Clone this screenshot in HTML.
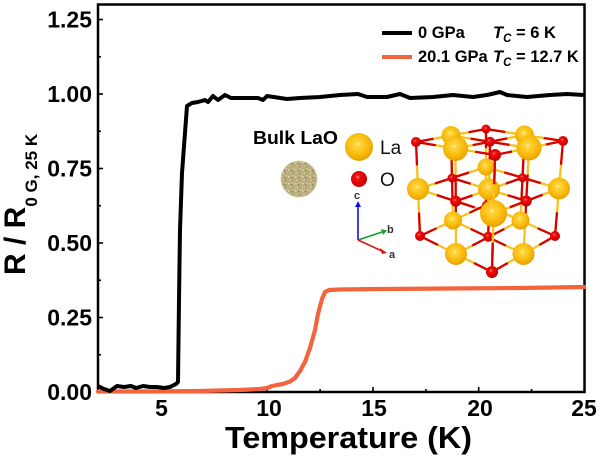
<!DOCTYPE html>
<html>
<head>
<meta charset="utf-8">
<style>
html,body{margin:0;padding:0;background:#fff;}
svg{display:block;}
text{font-family:"Liberation Sans",Arial,sans-serif;}
</style>
</head>
<body>
<svg width="600" height="462" viewBox="0 0 600 462" xmlns="http://www.w3.org/2000/svg">
<defs>
  <radialGradient id="la" cx="0.45" cy="0.4" r="0.65">
    <stop offset="0" stop-color="#FFF6C8"/>
    <stop offset="0.12" stop-color="#FFD640"/>
    <stop offset="0.6" stop-color="#F8BA0A"/>
    <stop offset="1" stop-color="#E29C00"/>
  </radialGradient>
  <radialGradient id="ox" cx="0.42" cy="0.38" r="0.65">
    <stop offset="0" stop-color="#FF9A9A"/>
    <stop offset="0.2" stop-color="#F21010"/>
    <stop offset="0.75" stop-color="#D40000"/>
    <stop offset="1" stop-color="#A80000"/>
  </radialGradient>
  <pattern id="spk" width="7" height="7" patternUnits="userSpaceOnUse">
    <rect width="7" height="7" fill="#B9AD80"/>
    <rect x="1" y="1" width="1.5" height="1.5" fill="#E8DCA6"/>
    <rect x="4" y="2" width="1.2" height="1.2" fill="#7D7350"/>
    <rect x="2.5" y="4.5" width="1.5" height="1.2" fill="#DCD096"/>
    <rect x="5.3" y="5" width="1" height="1.3" fill="#928660"/>
    <rect x="0.2" y="5.5" width="1" height="1" fill="#CFC38C"/>
    <rect x="5.5" y="0.3" width="1.2" height="1" fill="#F0E6B8"/>
  </pattern>
  <g id="E">
    <path pathLength="4" d="M486 129 L563 141"/>
    <path pathLength="4" d="M416 142 L495 155"/>
    <path pathLength="4" d="M486 129 L416 142"/>
    <path pathLength="4" d="M563 141 L495 155"/>
    <path pathLength="4" d="M452 178 L526.25 201"/>
    <path pathLength="4" d="M522.5 177.75 L455.75 201.25"/>
    <path pathLength="4" d="M486 205 L555 236"/>
    <path pathLength="4" d="M420 236 L492 272"/>
    <path pathLength="4" d="M486 205 L420 236"/>
    <path pathLength="4" d="M555 236 L492 272"/>
    <path pathLength="4" d="M486 205 L486 129"/>
    <path pathLength="4" d="M555 236 L563 141"/>
    <path pathLength="4" d="M488.25 236.75 L490 141.75"/>
    <path pathLength="4" d="M420 236 L416 142"/>
    <path pathLength="4" d="M492 272 L495 155"/>
  </g>
  <g id="O">
    <path pathLength="4" d="M451 135.5 L529 148"/>
    <path pathLength="4" d="M524.5 135 L455.5 148.5"/>
    <path pathLength="4" d="M486 167 L559 188.5"/>
    <path pathLength="4" d="M418 189 L493.5 213.5"/>
    <path pathLength="4" d="M486 167 L418 189"/>
    <path pathLength="4" d="M559 188.5 L493.5 213.5"/>
    <path pathLength="4" d="M453 220.5 L523.5 254"/>
    <path pathLength="4" d="M520.5 220.5 L456 254"/>
    <path pathLength="4" d="M520.5 220.5 L524.5 135"/>
    <path pathLength="4" d="M453 220.5 L451 135.5"/>
    <path pathLength="4" d="M523.5 254 L529 148"/>
    <path pathLength="4" d="M456 254 L455.5 148.5"/>
  </g>
  <path id="V22" pathLength="4" d="M492 272 L495 155"/>
</defs>

<!-- frame -->
<rect x="98" y="4.5" width="486.5" height="387.5" fill="none" stroke="#000" stroke-width="2.5"/>

<!-- ticks -->
<g stroke="#000" stroke-width="1.6">
  <line x1="161.5" y1="392" x2="161.5" y2="387"/>
  <line x1="267.2" y1="392" x2="267.2" y2="387"/>
  <line x1="373" y1="392" x2="373" y2="387"/>
  <line x1="478.7" y1="392" x2="478.7" y2="387"/>
  <line x1="214.3" y1="392" x2="214.3" y2="389"/>
  <line x1="320.1" y1="392" x2="320.1" y2="389"/>
  <line x1="425.9" y1="392" x2="425.9" y2="389"/>
  <line x1="531.6" y1="392" x2="531.6" y2="389"/>
  <line x1="108.6" y1="392" x2="108.6" y2="389"/>
  <line x1="98" y1="317.5" x2="103" y2="317.5"/>
  <line x1="98" y1="243" x2="103" y2="243"/>
  <line x1="98" y1="168.5" x2="103" y2="168.5"/>
  <line x1="98" y1="94" x2="103" y2="94"/>
  <line x1="98" y1="19.5" x2="103" y2="19.5"/>
  <line x1="98" y1="354.75" x2="101" y2="354.75"/>
  <line x1="98" y1="280.25" x2="101" y2="280.25"/>
  <line x1="98" y1="205.75" x2="101" y2="205.75"/>
  <line x1="98" y1="131.25" x2="101" y2="131.25"/>
  <line x1="98" y1="56.75" x2="101" y2="56.75"/>
</g>

<!-- tick labels -->
<g font-size="23" font-weight="bold" fill="#000" text-anchor="end">
  <text x="92" y="400">0.00</text>
  <text x="92" y="325.5">0.25</text>
  <text x="92" y="251">0.50</text>
  <text x="92" y="176.5">0.75</text>
  <text x="92" y="102">1.00</text>
  <text x="92" y="27.5">1.25</text>
</g>
<g font-size="23" font-weight="bold" fill="#000" text-anchor="middle">
  <text x="161.5" y="416">5</text>
  <text x="269" y="416">10</text>
  <text x="374" y="416">15</text>
  <text x="480" y="416">20</text>
  <text x="584" y="416">25</text>
</g>

<!-- axis titles -->
<text x="225" y="448" font-size="31" font-weight="bold" textLength="247" lengthAdjust="spacingAndGlyphs">Temperature (K)</text>
<text transform="translate(25,275) rotate(-90)" font-size="30" font-weight="bold">R / R<tspan font-size="17" dy="12">0 G, 25 K</tspan></text>

<!-- orange curve -->
<polyline fill="none" stroke="#F4643C" stroke-width="4.2" stroke-linejoin="round" stroke-linecap="round"
 points="98,391.5 150,391.5 200,391 240,390 260,389 267,388 272,386 277,385 283,384 290,381.5 295,378 300,371 305,362 310,348 315,330 318,314 322,299 325,292 329,290 340,289.5 380,289 450,288.5 520,288 584,287"/>

<!-- black curve -->
<polyline fill="none" stroke="#000" stroke-width="4" stroke-linejoin="round"
 points="98,386 104,389 110,391 117,386 124,387 131,386 136,388 143,386 150,387 157,387 164,388 170,387 176,384 178,382 179,300 180,230 182,173 187,106 192,103 198,102 205,100 208,102 213,96 218,100 225,95 231,98 245,98 258,98 263,100 267,96 287,99 300,98 320,97 340,95 358,94 367,97 387,97 400,94 410,98 433,97 453,95 473,97 487,95 500,92 507,95 527,97 550,95 567,94 584,95"/>

<!-- legend -->
<line x1="382" y1="33" x2="412" y2="33" stroke="#000" stroke-width="4"/>
<line x1="382" y1="57" x2="412" y2="57" stroke="#F4643C" stroke-width="4"/>
<g font-size="16.5" font-weight="bold" fill="#000">
  <text x="418" y="38">0 GPa</text>
  <text x="418" y="62">20.1 GPa</text>
  <text x="493" y="38"><tspan font-style="italic">T</tspan><tspan font-style="italic" font-size="11.5" dy="4">C</tspan><tspan dy="-4"> = 6 K</tspan></text>
  <text x="493" y="62"><tspan font-style="italic">T</tspan><tspan font-style="italic" font-size="11.5" dy="4">C</tspan><tspan dy="-4"> = 12.7 K</tspan></text>
</g>

<!-- inset: Bulk LaO -->
<text x="253" y="144" font-size="18" font-weight="bold" textLength="85" lengthAdjust="spacingAndGlyphs">Bulk LaO</text>
<circle cx="299" cy="179" r="18" fill="url(#spk)"/>
<circle cx="299" cy="179" r="18" fill="none" stroke="#D2C79C" stroke-width="0.8"/>

<circle cx="359" cy="147" r="14" fill="url(#la)"/>
<text x="380" y="154" font-size="19" fill="#111">La</text>
<circle cx="359" cy="179" r="8" fill="url(#ox)"/>
<text x="380" y="186" font-size="19" fill="#111">O</text>

<!-- axes triad -->
<g stroke-width="1.6" fill="none">
  <line x1="358" y1="240" x2="358" y2="206" stroke="#1010E0"/>
  <line x1="358" y1="240" x2="382" y2="232" stroke="#10A030"/>
  <line x1="358" y1="240" x2="382" y2="251" stroke="#E01010"/>
</g>
<polygon points="358,201 355,207 361,207" fill="#1010E0"/>
<polygon points="387,230.5 381,229 383,235" fill="#10A030"/>
<polygon points="387,253 380,248 382,254" fill="#E01010"/>
<g font-size="11" font-weight="bold" fill="#333">
  <text x="354" y="199">c</text>
  <text x="387" y="233">b</text>
  <text x="389" y="258">a</text>
</g>

<!-- crystal bonds -->
<g fill="none" stroke-width="2.3" stroke-linecap="butt">
  <use href="#E" stroke="#F7C21B"/>
  <use href="#O" stroke="#F7C21B"/>
  <use href="#E" stroke="#D60000" stroke-dasharray="1 2 1"/>
  <use href="#O" stroke="#D60000" stroke-dasharray="0 1 2 1"/>
</g>

<!-- crystal atoms back to front -->
<circle cx="486" cy="205" r="4" fill="url(#ox)"/>
<circle cx="486" cy="167" r="8.5" fill="url(#la)"/>
<circle cx="486" cy="129" r="4.5" fill="url(#ox)"/>

<circle cx="520.5" cy="220.5" r="9" fill="url(#la)"/>
<circle cx="453" cy="220.5" r="9" fill="url(#la)"/>
<circle cx="522.5" cy="177.75" r="4.5" fill="url(#ox)"/>
<circle cx="452" cy="178" r="4.5" fill="url(#ox)"/>
<circle cx="524.5" cy="135" r="9.5" fill="url(#la)"/>
<circle cx="451" cy="135.5" r="9.5" fill="url(#la)"/>

<circle cx="555" cy="236" r="5" fill="url(#ox)"/>
<circle cx="488.25" cy="236.75" r="5" fill="url(#ox)"/>
<circle cx="420" cy="236" r="5" fill="url(#ox)"/>
<circle cx="559" cy="188.5" r="11" fill="url(#la)"/>
<circle cx="489" cy="189.25" r="11" fill="url(#la)"/>
<circle cx="418" cy="189" r="11" fill="url(#la)"/>
<circle cx="563" cy="141" r="5" fill="url(#ox)"/>
<circle cx="490" cy="141.75" r="5" fill="url(#ox)"/>
<circle cx="416" cy="142" r="5" fill="url(#ox)"/>

<circle cx="523.5" cy="254" r="11" fill="url(#la)"/>
<circle cx="456" cy="254" r="11" fill="url(#la)"/>
<circle cx="526.25" cy="201" r="5.5" fill="url(#ox)"/>
<circle cx="455.75" cy="201.25" r="5.5" fill="url(#ox)"/>
<circle cx="529" cy="148" r="12.5" fill="url(#la)"/>
<circle cx="455.5" cy="148.5" r="12.5" fill="url(#la)"/>

<g fill="none" stroke-width="2.3">
  <use href="#V22" stroke="#F7C21B"/>
  <use href="#V22" stroke="#D60000" stroke-dasharray="1 2 1"/>
</g>

<circle cx="492" cy="272" r="6" fill="url(#ox)"/>
<circle cx="493.5" cy="213.5" r="13.5" fill="url(#la)"/>
<circle cx="495" cy="155" r="6" fill="url(#ox)"/>
</svg>
</body>
</html>
